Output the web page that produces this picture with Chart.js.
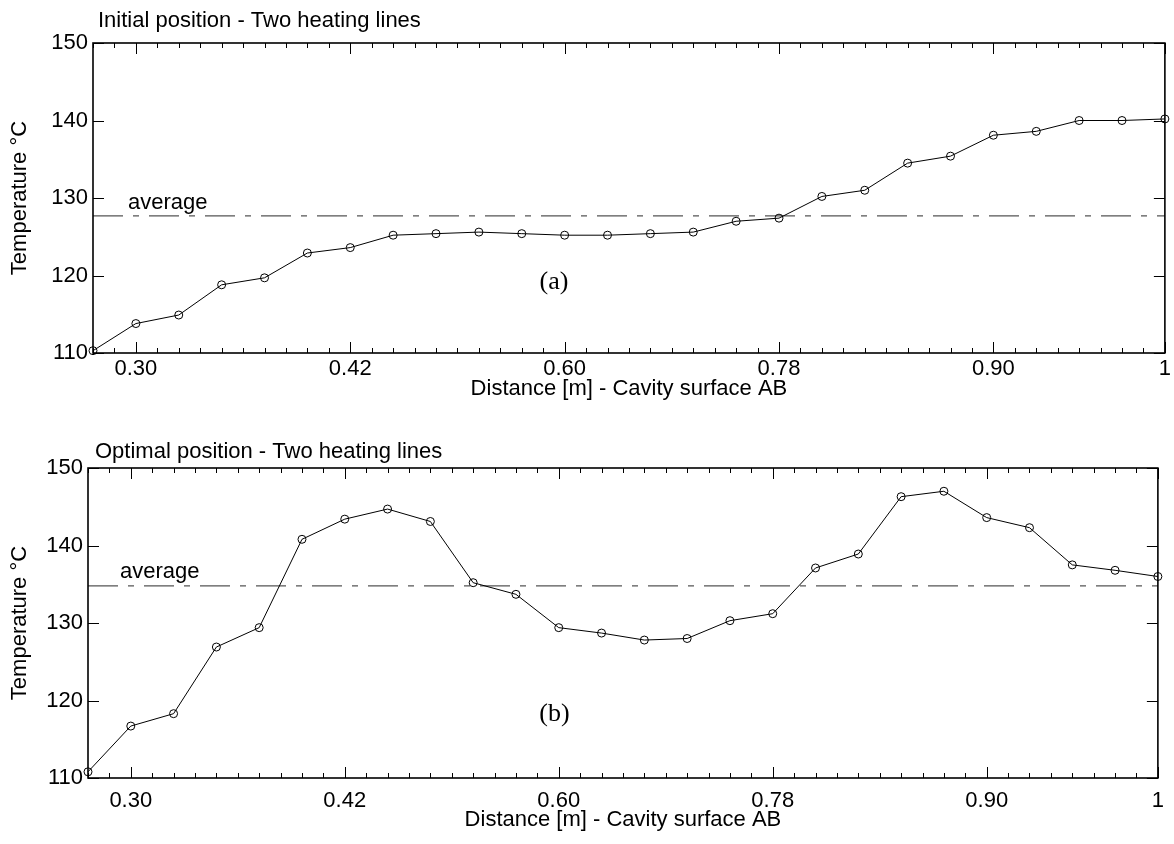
<!DOCTYPE html>
<html>
<head>
<meta charset="utf-8">
<script src="https://cdn.jsdelivr.net/npm/chart.js@4.4.1/dist/chart.umd.min.js"></script>
<style>
  body { margin: 0; background: #fff; }
  .panel { position: absolute; left: 0; width: 1174px; height: 422px; }
</style>
</head>
<body>
<div class="panel" style="top:0"><canvas id="chartA"></canvas></div>
<div class="panel" style="top:422px"><canvas id="chartB"></canvas></div>
<script>
// x positions are sample indices, labelled with the distances printed under the axis
const tickIndex = [1, 6, 11, 16, 21, 25];
const tickLabels = ['0.30', '0.42', '0.60', '0.78', '0.90', '1'];
const yTicks = [110, 120, 130, 140, 150];

const tempInitial = [110.3, 113.8, 114.9, 118.8, 119.7, 122.9, 123.6, 125.2, 125.4, 125.6, 125.4, 125.2, 125.2,
                     125.4, 125.6, 127.0, 127.4, 130.2, 131.0, 134.5, 135.4, 138.1, 138.6, 140.0, 140.0, 140.2];
const tempOptimal = [110.8, 116.7, 118.3, 126.9, 129.4, 140.8, 143.4, 144.7, 143.1, 135.2, 133.7, 129.4, 128.7,
                     127.8, 128.0, 130.3, 131.2, 137.1, 138.9, 146.3, 147.0, 143.6, 142.3, 137.5, 136.8, 136.0];
const avgInitial = 127.7;
const avgOptimal = 134.8;

const sans = '"Liberation Sans", Arial, sans-serif';
const axisFont = { family: sans, size: 22 };

// inward ticks, box, panel title, "average" and (a)/(b) labels
const framePlugin = {
  id: 'frame',
  afterDraw(chart, args, o) {
    const { ctx, chartArea: a, scales: { x, y } } = chart;
    ctx.save();
    ctx.strokeStyle = '#000';
    ctx.lineWidth = 1;
    ctx.beginPath();
    for (let v = x.min; v <= x.max; v += 0.5) {
      const px = Math.round(x.getPixelForValue(v)) + 0.5;
      const len = tickIndex.includes(v) ? 11 : 5;
      ctx.moveTo(px, a.bottom); ctx.lineTo(px, a.bottom - len);
      ctx.moveTo(px, a.top); ctx.lineTo(px, a.top + len);
    }
    yTicks.forEach(v => {
      const py = Math.round(y.getPixelForValue(v)) + 0.5;
      ctx.moveTo(a.left, py); ctx.lineTo(a.left + 11, py);
      ctx.moveTo(a.right, py); ctx.lineTo(a.right - 11, py);
    });
    ctx.stroke();
    ctx.lineWidth = 1.6;
    ctx.strokeRect(a.left, a.top, a.right - a.left, a.bottom - a.top);

    ctx.fillStyle = '#000';
    ctx.font = '22px ' + sans;
    ctx.textBaseline = 'alphabetic';
    ctx.fillText(o.title, a.left + o.titleDx, a.top - o.titleDy);
    ctx.fillText('average', a.left + o.avgDx, y.getPixelForValue(o.avg) - o.avgDy);
    ctx.font = '26px "Liberation Serif", "Times New Roman", serif';
    ctx.textAlign = 'center';
    ctx.textBaseline = 'middle';
    ctx.fillText(o.tag, x.getPixelForValue(o.tagX), y.getPixelForValue(o.tagY));
    ctx.restore();
  }
};

function makeChart(id, temps, avg, g) {
  new Chart(document.getElementById(id), {
    type: 'line',
    data: {
      datasets: [{
        data: temps.map((t, i) => ({ x: i, y: t })),
        borderColor: '#000',
        borderWidth: 1,
        pointRadius: 4,
        pointBorderWidth: 1,
        pointBorderColor: '#000',
        pointBackgroundColor: 'rgba(0,0,0,0)',
        tension: 0,
        clip: false
      }, {
        data: [{ x: 0, y: avg }, { x: tickIndex[tickIndex.length - 1], y: avg }],
        borderColor: '#555',
        borderWidth: 1.2,
        borderDash: [30, 10, 6, 10],
        pointRadius: 0
      }]
    },
    options: {
      responsive: true,
      maintainAspectRatio: false,
      animation: false,
      layout: { padding: { top: g.top, right: 1174 - g.right, left: 0, bottom: 0 } },
      plugins: {
        legend: { display: false },
        tooltip: { enabled: false },
        frame: g.frame
      },
      scales: {
        x: {
          type: 'linear',
          min: 0,
          max: 25,
          afterBuildTicks: s => { s.ticks = tickIndex.map(v => ({ value: v })); },
          afterFit: s => { s.height = 422 - g.bottom; },
          grid: { display: false, drawTicks: false },
          border: { display: false },
          ticks: {
            color: '#000', font: axisFont, padding: g.tickPad, maxRotation: 0, autoSkip: false,
            callback: v => tickLabels[tickIndex.indexOf(v)] ?? ''
          },
          title: {
            display: true, text: 'Distance [m] - Cavity surface AB', color: '#000',
            font: axisFont, padding: { top: 0, bottom: g.titlePad }
          }
        },
        y: {
          min: 110,
          max: 150,
          afterBuildTicks: s => { s.ticks = yTicks.map(v => ({ value: v })); },
          afterFit: s => { s.width = g.left; },
          grid: { display: false, drawTicks: false },
          border: { display: false },
          ticks: { color: '#000', font: axisFont, padding: 5 },
          title: {
            display: true, text: 'Temperature °C', color: '#000',
            font: axisFont, padding: { top: 7, bottom: 0 }
          }
        }
      }
    },
    plugins: [framePlugin]
  });
}

makeChart('chartA', tempInitial, avgInitial, {
  left: 93, right: 1168, top: 43, bottom: 353, tickPad: 3, titlePad: 20,
  frame: { title: 'Initial position - Two heating lines', titleDx: 5, titleDy: 16,
           avg: avgInitial, avgDx: 35, avgDy: 7, tag: '(a)', tagX: 10.75, tagY: 119.2 }
});
makeChart('chartB', tempOptimal, avgOptimal, {
  left: 88, right: 1163, top: 46, bottom: 356, tickPad: 10, titlePad: 11,
  frame: { title: 'Optimal position - Two heating lines', titleDx: 7, titleDy: 10,
           avg: avgOptimal, avgDx: 32, avgDy: 8, tag: '(b)', tagX: 10.9, tagY: 118.3 }
});
</script>
</body>
</html>
